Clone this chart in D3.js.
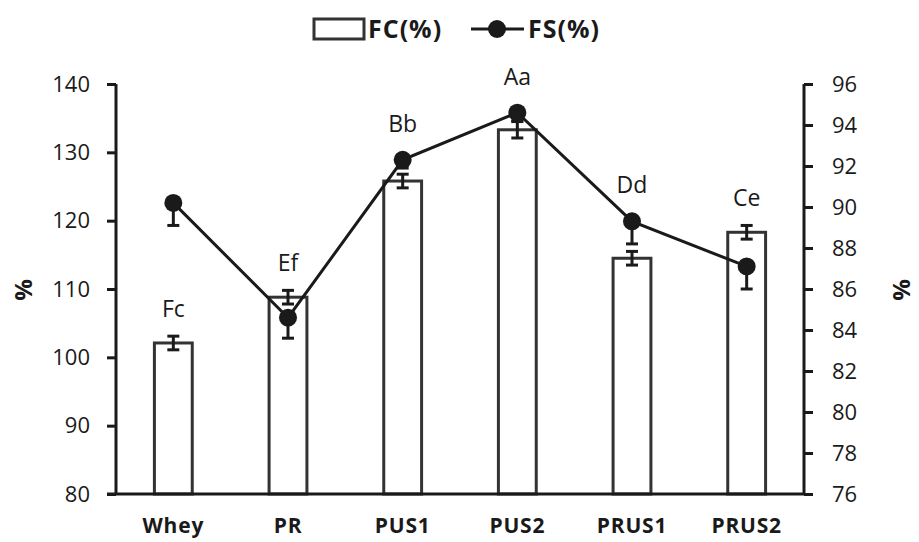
<!DOCTYPE html>
<html>
<head>
<meta charset="utf-8">
<script src="https://cdn.jsdelivr.net/npm/d3@7"></script>
<style>
  body { margin: 0; background: #fff; }
  text { font-family: "Open Sans", "DejaVu Sans", sans-serif; fill: #1a1a1a; }
</style>
</head>
<body>
<div id="chart"></div>
<script>
// data
var categories = ["Whey", "PR", "PUS1", "PUS2", "PRUS1", "PRUS2"];
var fcValues = [102.1, 108.8, 125.8, 133.3, 114.5, 118.3];   // bars, left axis
var fcErrors = [1.0, 1.0, 1.0, 1.2, 1.0, 1.0];
var fsValues = [90.2, 84.6, 92.3, 94.6, 89.3, 87.1];         // line, right axis
var fsErrors = [1.1, 1.0, 0.4, 0.4, 1.1, 1.1];
var groupLabels = ["Fc", "Ef", "Bb", "Aa", "Dd", "Ce"];
var leftTicks = [80, 90, 100, 110, 120, 130, 140];
var rightTicks = [76, 78, 80, 82, 84, 86, 88, 90, 92, 94, 96];

var width = 919, height = 542;
var x0 = 116, x1 = 804, yTop = 84, yBot = 494;
var ink = "#1a1a1a";

var svg = d3.select("#chart").append("svg")
  .attr("width", width)
  .attr("height", height);

var x = d3.scaleBand().domain(categories).range([x0, x1]).paddingInner(0.67).paddingOuter(0.335);
var yL = d3.scaleLinear().domain([80, 140]).range([yBot, yTop]);
var yR = d3.scaleLinear().domain([76, 96]).range([yBot, yTop]);

var rows = categories.map(function(c, i) {
  return { cat: c, fc: fcValues[i], fcErr: fcErrors[i], fs: fsValues[i], fsErr: fsErrors[i], label: groupLabels[i] };
});

//bars
svg.selectAll(".bar")
  .data(rows)
  .enter().append("rect")
  .attr("class", "bar")
  .attr("x", function(d) { return x(d.cat); })
  .attr("width", x.bandwidth())
  .attr("y", function(d) { return yL(d.fc); })
  .attr("height", function(d) { return yBot - yL(d.fc); })
  .attr("fill", "#fff")
  .attr("stroke", "#333")
  .attr("stroke-width", 3);

var cx = function(d) { return x(d.cat) + x.bandwidth() / 2; };
var cap = 6;

//bar error bars (+/-)
var be = svg.selectAll(".barErr").data(rows).enter().append("g").attr("class", "barErr")
  .attr("stroke", ink).attr("stroke-width", 3);
be.append("line")
  .attr("x1", cx).attr("x2", cx)
  .attr("y1", function(d) { return yL(d.fc + d.fcErr); })
  .attr("y2", function(d) { return yL(d.fc - d.fcErr); });
be.append("line")
  .attr("x1", function(d) { return cx(d) - cap; }).attr("x2", function(d) { return cx(d) + cap; })
  .attr("y1", function(d) { return yL(d.fc + d.fcErr); })
  .attr("y2", function(d) { return yL(d.fc + d.fcErr); });
be.append("line")
  .attr("x1", function(d) { return cx(d) - cap; }).attr("x2", function(d) { return cx(d) + cap; })
  .attr("y1", function(d) { return yL(d.fc - d.fcErr); })
  .attr("y2", function(d) { return yL(d.fc - d.fcErr); });

//line error bars (minus only)
var le = svg.selectAll(".lineErr").data(rows).enter().append("g").attr("class", "lineErr")
  .attr("stroke", ink).attr("stroke-width", 3);
le.append("line")
  .attr("x1", cx).attr("x2", cx)
  .attr("y1", function(d) { return yR(d.fs); })
  .attr("y2", function(d) { return yR(d.fs - d.fsErr); });
le.append("line")
  .attr("x1", function(d) { return cx(d) - cap; }).attr("x2", function(d) { return cx(d) + cap; })
  .attr("y1", function(d) { return yR(d.fs - d.fsErr); })
  .attr("y2", function(d) { return yR(d.fs - d.fsErr); });

//FS line + markers
var line = d3.line().x(cx).y(function(d) { return yR(d.fs); });
svg.append("path")
  .datum(rows)
  .attr("d", line)
  .attr("fill", "none")
  .attr("stroke", ink)
  .attr("stroke-width", 3);

svg.selectAll(".dot")
  .data(rows)
  .enter().append("circle")
  .attr("class", "dot")
  .attr("cx", cx)
  .attr("cy", function(d) { return yR(d.fs); })
  .attr("r", 9)
  .attr("fill", ink);

//group letters: above the point if it sits just over the bar, else above the bar
svg.selectAll(".grp")
  .data(rows)
  .enter().append("text")
  .attr("class", "grp")
  .attr("x", cx)
  .attr("y", function(d) {
    var barTop = yL(d.fc + d.fcErr);
    var pt = yR(d.fs) - 9;
    var anchor = (pt < barTop && barTop - pt < 60) ? pt : barTop;
    return anchor - 19;
  })
  .attr("text-anchor", "middle")
  .attr("font-size", 23)
  .text(function(d) { return d.label; });

//axes
var axisL = svg.append("g")
  .attr("transform", "translate(" + x0 + ",0)")
  .call(d3.axisLeft(yL).tickValues(leftTicks).tickSize(9).tickPadding(17));
var axisR = svg.append("g")
  .attr("transform", "translate(" + x1 + ",0)")
  .call(d3.axisRight(yR).tickValues(rightTicks).tickSize(9).tickPadding(19));
[axisL, axisR].forEach(function(a) {
  a.select(".domain").attr("stroke", ink).attr("stroke-width", 3).attr("d", "M0," + yTop + "V" + yBot);
  a.selectAll(".tick line").attr("stroke", ink).attr("stroke-width", 3);
  a.selectAll(".tick text").attr("font-size", 22).attr("fill", ink)
    .style("font-family", "'Open Sans', sans-serif");
});

svg.append("line")
  .attr("x1", x0 - 9).attr("x2", x1)
  .attr("y1", yBot).attr("y2", yBot)
  .attr("stroke", ink).attr("stroke-width", 3);

svg.selectAll(".cat")
  .data(categories)
  .enter().append("text")
  .attr("class", "cat")
  .attr("x", function(d) { return x(d) + x.bandwidth() / 2; })
  .attr("y", 533)
  .attr("text-anchor", "middle")
  .attr("font-size", 21)
  .attr("font-weight", "bold")
  .attr("letter-spacing", 0.8)
  .text(function(d) { return d; });

//axis titles
svg.append("text")
  .attr("transform", "translate(32,290) rotate(-90)")
  .attr("text-anchor", "middle")
  .attr("font-size", 24).attr("font-weight", "bold")
  .text("%");
svg.append("text")
  .attr("transform", "translate(910,290) rotate(-90)")
  .attr("text-anchor", "middle")
  .attr("font-size", 24).attr("font-weight", "bold")
  .text("%");

//legend
var lg = svg.append("g");
lg.append("rect")
  .attr("x", 314).attr("y", 19).attr("width", 50).attr("height", 20)
  .attr("fill", "#fff").attr("stroke", "#333").attr("stroke-width", 3);
lg.append("text").attr("x", 368).attr("y", 38)
  .attr("font-size", 25).attr("font-weight", "bold").attr("letter-spacing", 1)
  .text("FC(%)");
lg.append("line")
  .attr("x1", 471).attr("x2", 524).attr("y1", 29).attr("y2", 29)
  .attr("stroke", ink).attr("stroke-width", 3);
lg.append("circle").attr("cx", 497).attr("cy", 29).attr("r", 9).attr("fill", ink);
lg.append("text").attr("x", 528).attr("y", 38)
  .attr("font-size", 25).attr("font-weight", "bold").attr("letter-spacing", 1)
  .text("FS(%)");
</script>
</body>
</html>
